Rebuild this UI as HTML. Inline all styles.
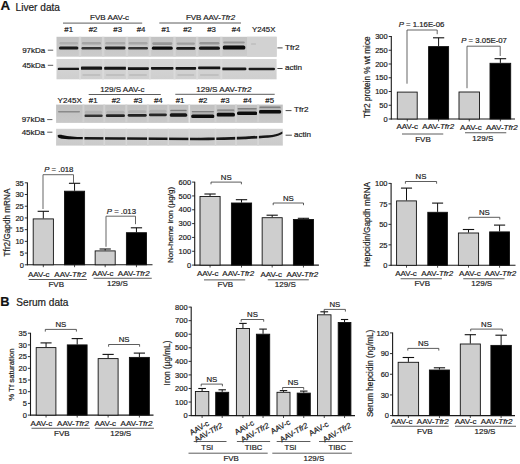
<!DOCTYPE html><html><head><meta charset="utf-8"><style>html,body{margin:0;padding:0;background:#fff;}svg{display:block;}</style></head><body><svg width="520" height="464" viewBox="0 0 520 464" font-family='"Liberation Sans", sans-serif'>
<style>text{stroke:#1c1c1c;stroke-width:0.2px;paint-order:stroke;}</style>
<rect width="520" height="464" fill="#fff"/>
<defs><filter id="bl" x="-10%" y="-50%" width="120%" height="200%"><feGaussianBlur stdDeviation="0.6"/></filter><filter id="bl2" x="-10%" y="-10%" width="120%" height="120%"><feGaussianBlur stdDeviation="0.35"/></filter></defs>
<text x="0.50" y="10.40" font-size="13.4" text-anchor="start" font-weight="bold" fill="#111" >A</text>
<text x="15.60" y="10.50" font-size="10.1" text-anchor="start" font-weight="normal" fill="#1c1c1c" >Liver data</text>
<text x="0.30" y="306.30" font-size="12.8" text-anchor="start" font-weight="bold" fill="#111" >B</text>
<text x="16.30" y="306.20" font-size="10.1" text-anchor="start" font-weight="normal" fill="#1c1c1c" >Serum data</text>
<linearGradient id="g1" x1="0" y1="0" x2="0" y2="1"><stop offset="0" stop-color="#c3c3c3"/><stop offset="1" stop-color="#cbcbcb"/></linearGradient>
<rect x="56.5" y="36.8" width="220.10" height="19.90" fill="url(#g1)"/>
<rect x="247.0" y="36.8" width="29.6" height="19.9" fill="#d2d2d2"/>
<g filter="url(#bl)">
<rect x="59.40" y="42.10" width="18.60" height="2.40" rx="1.20" fill="#b0b0b0"/>
<rect x="58.90" y="46.50" width="19.60" height="3.00" rx="1.50" fill="#1c1c1c"/>
<rect x="81.90" y="42.10" width="19.10" height="2.40" rx="1.20" fill="#a6a6a6"/>
<rect x="81.40" y="47.10" width="20.10" height="2.40" rx="1.20" fill="#363636"/>
<rect x="105.30" y="42.10" width="20.00" height="2.40" rx="1.20" fill="#aaaaaa"/>
<rect x="104.80" y="46.60" width="21.00" height="2.80" rx="1.40" fill="#242424"/>
<rect x="128.50" y="42.10" width="19.00" height="2.40" rx="1.20" fill="#a8a8a8"/>
<rect x="128.00" y="47.10" width="20.00" height="2.40" rx="1.20" fill="#363636"/>
<rect x="152.30" y="42.30" width="20.00" height="2.60" rx="1.30" fill="#989898"/>
<rect x="151.80" y="46.45" width="21.00" height="3.30" rx="1.60" fill="#0e0e0e"/>
<rect x="176.70" y="42.40" width="18.20" height="2.40" rx="1.20" fill="#a0a0a0"/>
<rect x="176.20" y="47.05" width="19.20" height="2.70" rx="1.35" fill="#1c1c1c"/>
<rect x="199.40" y="42.10" width="20.00" height="2.40" rx="1.20" fill="#969696"/>
<rect x="198.90" y="46.55" width="21.00" height="3.30" rx="1.60" fill="#121212"/>
<rect x="223.20" y="41.40" width="21.60" height="2.20" rx="1.10" fill="#989898"/>
<rect x="222.70" y="45.50" width="22.60" height="4.00" rx="1.60" fill="#080808"/>
<rect x="251.00" y="43.50" width="5.00" height="1.00" rx="0.50" fill="#b4b4b4"/>
</g>
<g filter="url(#bl2)">
<rect x="78.75" y="36.8" width="2.4" height="19.90" fill="#d4d4d4"/>
<rect x="101.95" y="36.8" width="2.4" height="19.90" fill="#d4d4d4"/>
<rect x="125.70" y="36.8" width="2.4" height="19.90" fill="#d4d4d4"/>
<rect x="148.70" y="36.8" width="2.4" height="19.90" fill="#d4d4d4"/>
<rect x="173.30" y="36.8" width="2.4" height="19.90" fill="#d4d4d4"/>
<rect x="195.95" y="36.8" width="2.4" height="19.90" fill="#d4d4d4"/>
<rect x="220.10" y="36.8" width="2.4" height="19.90" fill="#d4d4d4"/>
</g>
<linearGradient id="g2" x1="0" y1="0" x2="0" y2="1"><stop offset="0" stop-color="#d6d6d6"/><stop offset="1" stop-color="#cfcfcf"/></linearGradient>
<rect x="56.5" y="59.0" width="220.10" height="20.30" fill="url(#g2)"/>
<g filter="url(#bl)">
<rect x="57.70" y="67.70" width="22.00" height="2.40" rx="1.20" fill="#141414"/>
<rect x="82.40" y="74.00" width="18.10" height="2.00" rx="1.00" fill="#c0c0c0"/>
<rect x="80.20" y="66.60" width="22.50" height="3.20" rx="1.60" fill="#141414"/>
<rect x="105.80" y="74.00" width="19.00" height="2.00" rx="1.00" fill="#c0c0c0"/>
<rect x="103.60" y="66.80" width="23.40" height="3.00" rx="1.50" fill="#141414"/>
<rect x="129.00" y="74.00" width="18.00" height="2.00" rx="1.00" fill="#c0c0c0"/>
<rect x="126.80" y="67.20" width="22.40" height="2.80" rx="1.40" fill="#141414"/>
<rect x="150.60" y="66.90" width="23.40" height="2.80" rx="1.40" fill="#141414"/>
<rect x="177.20" y="74.00" width="17.20" height="2.00" rx="1.00" fill="#c0c0c0"/>
<rect x="175.00" y="66.90" width="21.60" height="2.80" rx="1.40" fill="#141414"/>
<rect x="199.90" y="74.00" width="19.00" height="2.00" rx="1.00" fill="#c0c0c0"/>
<rect x="197.70" y="66.50" width="23.40" height="2.80" rx="1.40" fill="#141414"/>
<rect x="221.50" y="67.50" width="25.00" height="2.80" rx="1.40" fill="#141414"/>
<rect x="248.50" y="67.70" width="26.50" height="2.60" rx="1.30" fill="#1a1a1a"/>
</g>
<g filter="url(#bl2)">
<rect x="78.95" y="59.0" width="2.0" height="20.30" fill="#dadada"/>
<rect x="102.15" y="59.0" width="2.0" height="20.30" fill="#dadada"/>
<rect x="125.90" y="59.0" width="2.0" height="20.30" fill="#dadada"/>
<rect x="148.90" y="59.0" width="2.0" height="20.30" fill="#dadada"/>
<rect x="173.50" y="59.0" width="2.0" height="20.30" fill="#dadada"/>
<rect x="196.15" y="59.0" width="2.0" height="20.30" fill="#dadada"/>
<rect x="220.30" y="59.0" width="2.0" height="20.30" fill="#dadada"/>
</g>
<linearGradient id="g3" x1="0" y1="0" x2="0" y2="1"><stop offset="0" stop-color="#c0c0c0"/><stop offset="1" stop-color="#c9c9c9"/></linearGradient>
<rect x="56.1" y="104.6" width="226.70" height="18.30" fill="url(#g3)"/>
<g filter="url(#bl)">
<rect x="58.00" y="111.10" width="22.00" height="1.40" rx="0.70" fill="#8a8a8a"/>
<rect x="84.70" y="110.80" width="17.50" height="3.00" rx="1.50" fill="#b2b2b2"/>
<rect x="84.20" y="114.60" width="18.50" height="2.40" rx="1.20" fill="#333"/>
<rect x="106.30" y="110.70" width="18.20" height="3.00" rx="1.50" fill="#b2b2b2"/>
<rect x="105.80" y="114.30" width="19.20" height="2.80" rx="1.40" fill="#222"/>
<rect x="128.10" y="110.30" width="18.30" height="3.00" rx="1.50" fill="#b2b2b2"/>
<rect x="127.60" y="113.95" width="19.30" height="2.70" rx="1.35" fill="#222"/>
<rect x="149.30" y="109.80" width="17.10" height="3.00" rx="1.50" fill="#b2b2b2"/>
<rect x="148.80" y="113.45" width="18.10" height="2.70" rx="1.35" fill="#262626"/>
<rect x="170.20" y="110.00" width="16.50" height="3.00" rx="1.50" fill="#b2b2b2"/>
<rect x="170.20" y="109.70" width="16.50" height="1.40" rx="0.70" fill="#808080"/>
<rect x="169.70" y="113.20" width="17.50" height="3.60" rx="1.60" fill="#141414"/>
<rect x="191.70" y="111.20" width="22.30" height="3.00" rx="1.50" fill="#b2b2b2"/>
<rect x="191.70" y="110.90" width="22.30" height="1.40" rx="0.70" fill="#808080"/>
<rect x="191.20" y="114.40" width="23.30" height="3.60" rx="1.60" fill="#0a0a0a"/>
<rect x="217.00" y="109.70" width="17.50" height="3.00" rx="1.50" fill="#b2b2b2"/>
<rect x="217.00" y="109.40" width="17.50" height="1.40" rx="0.70" fill="#808080"/>
<rect x="216.50" y="112.80" width="18.50" height="3.80" rx="1.60" fill="#0c0c0c"/>
<rect x="237.50" y="108.30" width="19.30" height="3.00" rx="1.50" fill="#b2b2b2"/>
<rect x="237.50" y="108.00" width="19.30" height="1.40" rx="0.70" fill="#808080"/>
<rect x="237.00" y="111.50" width="20.30" height="3.60" rx="1.60" fill="#0c0c0c"/>
<rect x="259.30" y="106.80" width="21.40" height="3.00" rx="1.50" fill="#b2b2b2"/>
<rect x="259.30" y="106.50" width="21.40" height="1.40" rx="0.70" fill="#808080"/>
<rect x="258.80" y="110.05" width="22.40" height="3.50" rx="1.60" fill="#0c0c0c"/>
</g>
<g filter="url(#bl2)">
<rect x="82.40" y="104.6" width="2.0" height="18.30" fill="#d0d0d0"/>
<rect x="103.25" y="104.6" width="2.0" height="18.30" fill="#d0d0d0"/>
<rect x="125.30" y="104.6" width="2.0" height="18.30" fill="#d0d0d0"/>
<rect x="146.85" y="104.6" width="2.0" height="18.30" fill="#d0d0d0"/>
<rect x="167.30" y="104.6" width="2.0" height="18.30" fill="#d0d0d0"/>
<rect x="188.20" y="104.6" width="2.0" height="18.30" fill="#d0d0d0"/>
<rect x="214.50" y="104.6" width="2.0" height="18.30" fill="#d0d0d0"/>
<rect x="235.00" y="104.6" width="2.0" height="18.30" fill="#d0d0d0"/>
<rect x="257.05" y="104.6" width="2.0" height="18.30" fill="#d0d0d0"/>
</g>
<rect x="188.6" y="104.6" width="1.4" height="18.3" fill="#e4e4e4"/>
<linearGradient id="g4" x1="0" y1="0" x2="0" y2="1"><stop offset="0" stop-color="#d2d2d2"/><stop offset="1" stop-color="#cacaca"/></linearGradient>
<rect x="56.1" y="128.8" width="226.70" height="16.80" fill="url(#g4)"/>
<g filter="url(#bl)">
<path d="M57.6,135.6 C58,134.6 60,134.6 63,135.2 C68,136.2 75,137.0 83.2,137.1 L83.2,139.3 C75,139.4 68,139.4 62,138.8 C59,138.5 57.6,137.6 57.6,135.6 Z" fill="#0a0a0a"/>
<path d="M83,137.1 L200,137.8 C230,137.4 258,136.0 272,134.9 C277,134.3 280,133.0 282.4,131.6 L282.4,133.8 C280,135.2 277,136.6 272,137.3 C258,138.8 230,140.2 200,140.2 L83,139.6 Z" fill="#161616"/>
</g>
<g filter="url(#bl2)">
<rect x="82.80" y="128.8" width="1.6" height="16.80" fill="#d6d6d6"/>
<rect x="103.45" y="128.8" width="1.6" height="16.80" fill="#d6d6d6"/>
<rect x="125.50" y="128.8" width="1.6" height="16.80" fill="#d6d6d6"/>
<rect x="147.05" y="128.8" width="1.6" height="16.80" fill="#d6d6d6"/>
<rect x="167.50" y="128.8" width="1.6" height="16.80" fill="#d6d6d6"/>
<rect x="188.40" y="128.8" width="1.6" height="16.80" fill="#d6d6d6"/>
<rect x="214.70" y="128.8" width="1.6" height="16.80" fill="#d6d6d6"/>
<rect x="235.20" y="128.8" width="1.6" height="16.80" fill="#d6d6d6"/>
<rect x="257.25" y="128.8" width="1.6" height="16.80" fill="#d6d6d6"/>
</g>
<text x="45.30" y="52.70" font-size="8.0" text-anchor="end" font-weight="normal" fill="#1c1c1c" >97kDa</text>
<line x1="47.80" y1="50.20" x2="53.20" y2="50.20" stroke="#333" stroke-width="0.8"/>
<text x="45.30" y="67.50" font-size="8.0" text-anchor="end" font-weight="normal" fill="#1c1c1c" >45kDa</text>
<line x1="47.80" y1="65.30" x2="53.20" y2="65.30" stroke="#333" stroke-width="0.8"/>
<text x="44.80" y="122.40" font-size="8.0" text-anchor="end" font-weight="normal" fill="#1c1c1c" >97kDa</text>
<line x1="47.20" y1="119.60" x2="52.40" y2="119.60" stroke="#333" stroke-width="0.8"/>
<text x="44.80" y="134.90" font-size="8.0" text-anchor="end" font-weight="normal" fill="#1c1c1c" >45kDa</text>
<line x1="47.20" y1="132.20" x2="52.40" y2="132.20" stroke="#333" stroke-width="0.8"/>
<line x1="277.40" y1="47.90" x2="282.60" y2="47.90" stroke="#333" stroke-width="0.9"/>
<text x="285.00" y="49.50" font-size="8.1" text-anchor="start" font-weight="normal" fill="#1c1c1c" >Tfr2</text>
<line x1="277.40" y1="68.50" x2="282.60" y2="68.50" stroke="#333" stroke-width="0.9"/>
<text x="285.00" y="70.20" font-size="8.1" text-anchor="start" font-weight="normal" fill="#1c1c1c" >actin</text>
<line x1="285.60" y1="110.60" x2="291.50" y2="110.60" stroke="#333" stroke-width="0.9"/>
<text x="294.00" y="112.40" font-size="8.1" text-anchor="start" font-weight="normal" fill="#1c1c1c" >Tfr2</text>
<line x1="285.60" y1="135.20" x2="291.90" y2="135.20" stroke="#333" stroke-width="0.9"/>
<text x="293.90" y="137.00" font-size="8.1" text-anchor="start" font-weight="normal" fill="#1c1c1c" >actin</text>
<text x="109.60" y="19.90" font-size="8.0" text-anchor="middle" font-weight="normal" fill="#1c1c1c" >FVB AAV-c</text>
<line x1="63.00" y1="23.10" x2="142.20" y2="23.10" stroke="#333" stroke-width="0.8"/>
<text x="210.50" y="19.90" font-size="8.0" text-anchor="middle" font-weight="normal" fill="#1c1c1c" >FVB AAV-<tspan font-style="italic">Tfr2</tspan></text>
<line x1="159.30" y1="23.00" x2="241.00" y2="23.00" stroke="#333" stroke-width="0.8"/>
<text x="68.70" y="32.00" font-size="7.8" text-anchor="middle" font-weight="normal" fill="#1c1c1c" >#1</text>
<text x="93.00" y="32.00" font-size="7.8" text-anchor="middle" font-weight="normal" fill="#1c1c1c" >#2</text>
<text x="117.70" y="32.00" font-size="7.8" text-anchor="middle" font-weight="normal" fill="#1c1c1c" >#3</text>
<text x="141.00" y="32.00" font-size="7.8" text-anchor="middle" font-weight="normal" fill="#1c1c1c" >#4</text>
<text x="165.80" y="32.00" font-size="7.8" text-anchor="middle" font-weight="normal" fill="#1c1c1c" >#1</text>
<text x="187.50" y="32.00" font-size="7.8" text-anchor="middle" font-weight="normal" fill="#1c1c1c" >#2</text>
<text x="211.50" y="32.00" font-size="7.8" text-anchor="middle" font-weight="normal" fill="#1c1c1c" >#3</text>
<text x="236.20" y="32.00" font-size="7.8" text-anchor="middle" font-weight="normal" fill="#1c1c1c" >#4</text>
<text x="263.70" y="31.80" font-size="7.8" text-anchor="middle" font-weight="normal" fill="#1c1c1c" >Y245X</text>
<text x="122.30" y="92.40" font-size="8.0" text-anchor="middle" font-weight="normal" fill="#1c1c1c" >129/S AAV-c</text>
<line x1="88.70" y1="94.50" x2="160.80" y2="94.50" stroke="#333" stroke-width="0.8"/>
<text x="223.90" y="92.40" font-size="8.1" text-anchor="middle" font-weight="normal" fill="#1c1c1c" >129/S AAV-<tspan font-style="italic">Tfr2</tspan></text>
<line x1="175.30" y1="94.30" x2="274.70" y2="94.30" stroke="#333" stroke-width="0.8"/>
<text x="93.20" y="103.00" font-size="7.8" text-anchor="middle" font-weight="normal" fill="#1c1c1c" >#1</text>
<text x="116.00" y="103.00" font-size="7.8" text-anchor="middle" font-weight="normal" fill="#1c1c1c" >#2</text>
<text x="138.10" y="103.00" font-size="7.8" text-anchor="middle" font-weight="normal" fill="#1c1c1c" >#3</text>
<text x="158.30" y="103.00" font-size="7.8" text-anchor="middle" font-weight="normal" fill="#1c1c1c" >#4</text>
<text x="180.10" y="103.00" font-size="7.8" text-anchor="middle" font-weight="normal" fill="#1c1c1c" >#1</text>
<text x="203.10" y="103.00" font-size="7.8" text-anchor="middle" font-weight="normal" fill="#1c1c1c" >#2</text>
<text x="225.20" y="103.00" font-size="7.8" text-anchor="middle" font-weight="normal" fill="#1c1c1c" >#3</text>
<text x="247.50" y="103.00" font-size="7.8" text-anchor="middle" font-weight="normal" fill="#1c1c1c" >#4</text>
<text x="269.70" y="103.00" font-size="7.8" text-anchor="middle" font-weight="normal" fill="#1c1c1c" >#5</text>
<text x="69.70" y="102.80" font-size="8.1" text-anchor="middle" font-weight="normal" fill="#1c1c1c" >Y245X</text>
<line x1="391.30" y1="36.10" x2="391.30" y2="119.50" stroke="#1a1a1a" stroke-width="1.1"/>
<line x1="390.80" y1="119.00" x2="515.00" y2="119.00" stroke="#1a1a1a" stroke-width="1.1"/>
<line x1="388.70" y1="119.00" x2="391.30" y2="119.00" stroke="#1a1a1a" stroke-width="0.9"/>
<text x="387.70" y="121.70" font-size="7.5" text-anchor="end" font-weight="normal" fill="#1c1c1c" >0</text>
<line x1="388.70" y1="105.25" x2="391.30" y2="105.25" stroke="#1a1a1a" stroke-width="0.9"/>
<text x="387.70" y="107.95" font-size="7.5" text-anchor="end" font-weight="normal" fill="#1c1c1c" >50</text>
<line x1="388.70" y1="91.50" x2="391.30" y2="91.50" stroke="#1a1a1a" stroke-width="0.9"/>
<text x="387.70" y="94.20" font-size="7.5" text-anchor="end" font-weight="normal" fill="#1c1c1c" >100</text>
<line x1="388.70" y1="77.75" x2="391.30" y2="77.75" stroke="#1a1a1a" stroke-width="0.9"/>
<text x="387.70" y="80.45" font-size="7.5" text-anchor="end" font-weight="normal" fill="#1c1c1c" >150</text>
<line x1="388.70" y1="64.00" x2="391.30" y2="64.00" stroke="#1a1a1a" stroke-width="0.9"/>
<text x="387.70" y="66.70" font-size="7.5" text-anchor="end" font-weight="normal" fill="#1c1c1c" >200</text>
<line x1="388.70" y1="50.25" x2="391.30" y2="50.25" stroke="#1a1a1a" stroke-width="0.9"/>
<text x="387.70" y="52.95" font-size="7.5" text-anchor="end" font-weight="normal" fill="#1c1c1c" >250</text>
<line x1="388.70" y1="36.50" x2="391.30" y2="36.50" stroke="#1a1a1a" stroke-width="0.9"/>
<text x="387.70" y="39.20" font-size="7.5" text-anchor="end" font-weight="normal" fill="#1c1c1c" >300</text>
<rect x="397.30" y="92.10" width="19.90" height="26.90" fill="#cecece" stroke="#111" stroke-width="0.9"/>
<line x1="407.25" y1="119.00" x2="407.25" y2="121.40" stroke="#1a1a1a" stroke-width="0.8"/>
<line x1="438.60" y1="46.20" x2="438.60" y2="37.80" stroke="#111" stroke-width="1.0"/>
<line x1="432.98" y1="37.80" x2="444.22" y2="37.80" stroke="#111" stroke-width="1.1"/>
<rect x="428.60" y="46.60" width="20.00" height="72.40" fill="#000" stroke="#111" stroke-width="0.9"/>
<line x1="438.60" y1="119.00" x2="438.60" y2="121.40" stroke="#1a1a1a" stroke-width="0.8"/>
<rect x="459.00" y="92.00" width="20.50" height="27.00" fill="#cecece" stroke="#111" stroke-width="0.9"/>
<line x1="469.25" y1="119.00" x2="469.25" y2="121.40" stroke="#1a1a1a" stroke-width="0.8"/>
<line x1="500.35" y1="62.90" x2="500.35" y2="58.70" stroke="#111" stroke-width="1.0"/>
<line x1="494.55" y1="58.70" x2="506.16" y2="58.70" stroke="#111" stroke-width="1.1"/>
<rect x="490.00" y="63.30" width="20.70" height="55.70" fill="#000" stroke="#111" stroke-width="0.9"/>
<line x1="500.35" y1="119.00" x2="500.35" y2="121.40" stroke="#1a1a1a" stroke-width="0.8"/>
<polyline points="407.00,83.70 407.00,30.00 437.20,30.00 437.20,34.20" fill="none" stroke="#4a4a4a" stroke-width="0.85"/>
<text x="421.50" y="27.30" font-size="7.8" text-anchor="middle" font-weight="normal" fill="#1c1c1c" ><tspan font-style="italic">P</tspan> = 1.16E-06</text>
<polyline points="467.00,88.20 467.00,46.20 500.20,46.20 500.20,56.00" fill="none" stroke="#4a4a4a" stroke-width="0.85"/>
<text x="484.10" y="43.30" font-size="7.8" text-anchor="middle" font-weight="normal" fill="#1c1c1c" ><tspan font-style="italic">P</tspan> = 3.05E-07</text>
<text x="407.30" y="129.40" font-size="8.0" text-anchor="middle" font-weight="normal" fill="#1c1c1c" >AAV-c</text>
<text x="438.25" y="129.40" font-size="8.0" text-anchor="middle" font-weight="normal" fill="#1c1c1c" >AAV-<tspan font-style="italic">Tfr2</tspan></text>
<line x1="402.00" y1="134.00" x2="443.25" y2="134.00" stroke="#333" stroke-width="0.8"/>
<text x="423.00" y="142.40" font-size="8.0" text-anchor="middle" font-weight="normal" fill="#1c1c1c" >FVB</text>
<text x="470.90" y="129.60" font-size="8.0" text-anchor="middle" font-weight="normal" fill="#1c1c1c" >AAV-c</text>
<text x="501.90" y="129.60" font-size="8.0" text-anchor="middle" font-weight="normal" fill="#1c1c1c" >AAV-<tspan font-style="italic">Tfr2</tspan></text>
<line x1="465.00" y1="132.75" x2="506.25" y2="132.75" stroke="#333" stroke-width="0.8"/>
<text x="482.80" y="141.20" font-size="8.0" text-anchor="middle" font-weight="normal" fill="#1c1c1c" >129/S</text>
<text x="0" y="0" font-size="8.2" text-anchor="middle" fill="#1c1c1c" transform="translate(370.40,77.20) rotate(-90)">Tfr2 protein % wt mice</text>
<line x1="27.40" y1="182.40" x2="27.40" y2="265.30" stroke="#1a1a1a" stroke-width="1.1"/>
<line x1="26.90" y1="264.80" x2="152.50" y2="264.80" stroke="#1a1a1a" stroke-width="1.1"/>
<line x1="24.80" y1="264.80" x2="27.40" y2="264.80" stroke="#1a1a1a" stroke-width="0.9"/>
<text x="23.80" y="267.50" font-size="7.5" text-anchor="end" font-weight="normal" fill="#1c1c1c" >0</text>
<line x1="24.80" y1="253.09" x2="27.40" y2="253.09" stroke="#1a1a1a" stroke-width="0.9"/>
<text x="23.80" y="255.79" font-size="7.5" text-anchor="end" font-weight="normal" fill="#1c1c1c" >5</text>
<line x1="24.80" y1="241.37" x2="27.40" y2="241.37" stroke="#1a1a1a" stroke-width="0.9"/>
<text x="23.80" y="244.07" font-size="7.5" text-anchor="end" font-weight="normal" fill="#1c1c1c" >10</text>
<line x1="24.80" y1="229.66" x2="27.40" y2="229.66" stroke="#1a1a1a" stroke-width="0.9"/>
<text x="23.80" y="232.36" font-size="7.5" text-anchor="end" font-weight="normal" fill="#1c1c1c" >15</text>
<line x1="24.80" y1="217.94" x2="27.40" y2="217.94" stroke="#1a1a1a" stroke-width="0.9"/>
<text x="23.80" y="220.64" font-size="7.5" text-anchor="end" font-weight="normal" fill="#1c1c1c" >20</text>
<line x1="24.80" y1="206.23" x2="27.40" y2="206.23" stroke="#1a1a1a" stroke-width="0.9"/>
<text x="23.80" y="208.93" font-size="7.5" text-anchor="end" font-weight="normal" fill="#1c1c1c" >25</text>
<line x1="24.80" y1="194.51" x2="27.40" y2="194.51" stroke="#1a1a1a" stroke-width="0.9"/>
<text x="23.80" y="197.21" font-size="7.5" text-anchor="end" font-weight="normal" fill="#1c1c1c" >30</text>
<line x1="24.80" y1="182.80" x2="27.40" y2="182.80" stroke="#1a1a1a" stroke-width="0.9"/>
<text x="23.80" y="185.50" font-size="7.5" text-anchor="end" font-weight="normal" fill="#1c1c1c" >35</text>
<line x1="43.30" y1="218.50" x2="43.30" y2="211.30" stroke="#111" stroke-width="1.0"/>
<line x1="37.63" y1="211.30" x2="48.97" y2="211.30" stroke="#111" stroke-width="1.1"/>
<rect x="33.20" y="218.90" width="20.20" height="45.90" fill="#cecece" stroke="#111" stroke-width="0.9"/>
<line x1="43.30" y1="264.80" x2="43.30" y2="267.20" stroke="#1a1a1a" stroke-width="0.8"/>
<line x1="74.55" y1="190.80" x2="74.55" y2="183.30" stroke="#111" stroke-width="1.0"/>
<line x1="68.91" y1="183.30" x2="80.19" y2="183.30" stroke="#111" stroke-width="1.1"/>
<rect x="64.50" y="191.20" width="20.10" height="73.60" fill="#000" stroke="#111" stroke-width="0.9"/>
<line x1="74.55" y1="264.80" x2="74.55" y2="267.20" stroke="#1a1a1a" stroke-width="0.8"/>
<line x1="105.17" y1="250.50" x2="105.17" y2="249.00" stroke="#111" stroke-width="1.0"/>
<line x1="99.55" y1="249.00" x2="110.80" y2="249.00" stroke="#111" stroke-width="1.1"/>
<rect x="95.15" y="250.90" width="20.05" height="13.90" fill="#cecece" stroke="#111" stroke-width="0.9"/>
<line x1="105.17" y1="264.80" x2="105.17" y2="267.20" stroke="#1a1a1a" stroke-width="0.8"/>
<line x1="136.45" y1="232.30" x2="136.45" y2="227.80" stroke="#111" stroke-width="1.0"/>
<line x1="130.81" y1="227.80" x2="142.09" y2="227.80" stroke="#111" stroke-width="1.1"/>
<rect x="126.40" y="232.70" width="20.10" height="32.10" fill="#000" stroke="#111" stroke-width="0.9"/>
<line x1="136.45" y1="264.80" x2="136.45" y2="267.20" stroke="#1a1a1a" stroke-width="0.8"/>
<polyline points="43.00,209.00 43.00,174.70 73.50,174.70 73.50,183.30" fill="none" stroke="#4a4a4a" stroke-width="0.85"/>
<text x="58.80" y="171.50" font-size="7.8" text-anchor="middle" font-weight="normal" fill="#1c1c1c" ><tspan font-style="italic">P</tspan> = .018</text>
<polyline points="106.00,246.80 106.00,216.20 135.50,216.20 135.50,224.20" fill="none" stroke="#4a4a4a" stroke-width="0.85"/>
<text x="121.40" y="213.80" font-size="7.8" text-anchor="middle" font-weight="normal" fill="#1c1c1c" ><tspan font-style="italic">P</tspan> = .013</text>
<text x="38.75" y="276.60" font-size="8.0" text-anchor="middle" font-weight="normal" fill="#1c1c1c" >AAV-c</text>
<text x="70.30" y="276.60" font-size="8.0" text-anchor="middle" font-weight="normal" fill="#1c1c1c" >AAV-<tspan font-style="italic">Tfr2</tspan></text>
<line x1="28.75" y1="279.50" x2="86.90" y2="279.50" stroke="#333" stroke-width="0.8"/>
<text x="56.25" y="286.90" font-size="8.0" text-anchor="middle" font-weight="normal" fill="#1c1c1c" >FVB</text>
<text x="102.70" y="275.90" font-size="8.0" text-anchor="middle" font-weight="normal" fill="#1c1c1c" >AAV-c</text>
<text x="133.75" y="275.90" font-size="8.0" text-anchor="middle" font-weight="normal" fill="#1c1c1c" >AAV-<tspan font-style="italic">Tfr2</tspan></text>
<line x1="93.60" y1="278.25" x2="151.75" y2="278.25" stroke="#333" stroke-width="0.8"/>
<text x="117.40" y="285.60" font-size="8.0" text-anchor="middle" font-weight="normal" fill="#1c1c1c" >129/S</text>
<text x="0" y="0" font-size="8.2" text-anchor="middle" fill="#1c1c1c" transform="translate(9.80,222.50) rotate(-90)">Tfr2/Gapdh mRNA</text>
<line x1="194.70" y1="181.70" x2="194.70" y2="265.60" stroke="#1a1a1a" stroke-width="1.1"/>
<line x1="194.20" y1="265.10" x2="318.90" y2="265.10" stroke="#1a1a1a" stroke-width="1.1"/>
<line x1="192.10" y1="265.10" x2="194.70" y2="265.10" stroke="#1a1a1a" stroke-width="0.9"/>
<text x="191.10" y="267.80" font-size="7.5" text-anchor="end" font-weight="normal" fill="#1c1c1c" >0</text>
<line x1="192.10" y1="251.27" x2="194.70" y2="251.27" stroke="#1a1a1a" stroke-width="0.9"/>
<text x="191.10" y="253.97" font-size="7.5" text-anchor="end" font-weight="normal" fill="#1c1c1c" >100</text>
<line x1="192.10" y1="237.43" x2="194.70" y2="237.43" stroke="#1a1a1a" stroke-width="0.9"/>
<text x="191.10" y="240.13" font-size="7.5" text-anchor="end" font-weight="normal" fill="#1c1c1c" >200</text>
<line x1="192.10" y1="223.60" x2="194.70" y2="223.60" stroke="#1a1a1a" stroke-width="0.9"/>
<text x="191.10" y="226.30" font-size="7.5" text-anchor="end" font-weight="normal" fill="#1c1c1c" >300</text>
<line x1="192.10" y1="209.77" x2="194.70" y2="209.77" stroke="#1a1a1a" stroke-width="0.9"/>
<text x="191.10" y="212.47" font-size="7.5" text-anchor="end" font-weight="normal" fill="#1c1c1c" >400</text>
<line x1="192.10" y1="195.93" x2="194.70" y2="195.93" stroke="#1a1a1a" stroke-width="0.9"/>
<text x="191.10" y="198.63" font-size="7.5" text-anchor="end" font-weight="normal" fill="#1c1c1c" >500</text>
<line x1="192.10" y1="182.10" x2="194.70" y2="182.10" stroke="#1a1a1a" stroke-width="0.9"/>
<text x="191.10" y="184.80" font-size="7.5" text-anchor="end" font-weight="normal" fill="#1c1c1c" >600</text>
<line x1="210.05" y1="196.10" x2="210.05" y2="194.00" stroke="#111" stroke-width="1.0"/>
<line x1="204.41" y1="194.00" x2="215.69" y2="194.00" stroke="#111" stroke-width="1.1"/>
<rect x="200.00" y="196.50" width="20.10" height="68.60" fill="#cecece" stroke="#111" stroke-width="0.9"/>
<line x1="210.05" y1="265.10" x2="210.05" y2="267.50" stroke="#1a1a1a" stroke-width="0.8"/>
<line x1="241.50" y1="202.60" x2="241.50" y2="199.70" stroke="#111" stroke-width="1.0"/>
<line x1="235.83" y1="199.70" x2="247.17" y2="199.70" stroke="#111" stroke-width="1.1"/>
<rect x="231.40" y="203.00" width="20.20" height="62.10" fill="#000" stroke="#111" stroke-width="0.9"/>
<line x1="241.50" y1="265.10" x2="241.50" y2="267.50" stroke="#1a1a1a" stroke-width="0.8"/>
<line x1="272.18" y1="217.30" x2="272.18" y2="215.20" stroke="#111" stroke-width="1.0"/>
<line x1="266.55" y1="215.20" x2="277.80" y2="215.20" stroke="#111" stroke-width="1.1"/>
<rect x="262.15" y="217.70" width="20.05" height="47.40" fill="#cecece" stroke="#111" stroke-width="0.9"/>
<line x1="272.18" y1="265.10" x2="272.18" y2="267.50" stroke="#1a1a1a" stroke-width="0.8"/>
<line x1="303.45" y1="219.10" x2="303.45" y2="218.30" stroke="#111" stroke-width="1.0"/>
<line x1="297.81" y1="218.30" x2="309.09" y2="218.30" stroke="#111" stroke-width="1.1"/>
<rect x="293.40" y="219.50" width="20.10" height="45.60" fill="#000" stroke="#111" stroke-width="0.9"/>
<line x1="303.45" y1="265.10" x2="303.45" y2="267.50" stroke="#1a1a1a" stroke-width="0.8"/>
<polyline points="211.00,184.30 211.00,182.10 241.40,182.10 241.40,184.30" fill="none" stroke="#333" stroke-width="0.8"/>
<text x="226.20" y="179.90" font-size="7.8" text-anchor="middle" font-weight="normal" fill="#1c1c1c" >NS</text>
<polyline points="273.20,205.20 273.20,203.00 303.50,203.00 303.50,205.20" fill="none" stroke="#333" stroke-width="0.8"/>
<text x="288.35" y="200.80" font-size="7.8" text-anchor="middle" font-weight="normal" fill="#1c1c1c" >NS</text>
<text x="207.70" y="276.30" font-size="8.0" text-anchor="middle" font-weight="normal" fill="#1c1c1c" >AAV-c</text>
<text x="238.30" y="276.30" font-size="8.0" text-anchor="middle" font-weight="normal" fill="#1c1c1c" >AAV-<tspan font-style="italic">Tfr2</tspan></text>
<line x1="204.00" y1="279.90" x2="245.20" y2="279.90" stroke="#333" stroke-width="0.8"/>
<text x="225.30" y="286.60" font-size="8.0" text-anchor="middle" font-weight="normal" fill="#1c1c1c" >FVB</text>
<text x="271.20" y="276.80" font-size="8.0" text-anchor="middle" font-weight="normal" fill="#1c1c1c" >AAV-c</text>
<text x="302.40" y="276.80" font-size="8.0" text-anchor="middle" font-weight="normal" fill="#1c1c1c" >AAV-<tspan font-style="italic">Tfr2</tspan></text>
<line x1="267.80" y1="279.80" x2="308.80" y2="279.80" stroke="#333" stroke-width="0.8"/>
<text x="285.30" y="287.10" font-size="8.0" text-anchor="middle" font-weight="normal" fill="#1c1c1c" >129/S</text>
<text x="0" y="0" font-size="8.0" text-anchor="middle" fill="#1c1c1c" transform="translate(173.10,225.00) rotate(-90)">Non-heme iron (µg/g)</text>
<line x1="391.10" y1="183.00" x2="391.10" y2="265.80" stroke="#1a1a1a" stroke-width="1.1"/>
<line x1="390.60" y1="265.30" x2="515.50" y2="265.30" stroke="#1a1a1a" stroke-width="1.1"/>
<line x1="388.50" y1="265.30" x2="391.10" y2="265.30" stroke="#1a1a1a" stroke-width="0.9"/>
<text x="387.50" y="268.00" font-size="7.5" text-anchor="end" font-weight="normal" fill="#1c1c1c" >0</text>
<line x1="388.50" y1="244.83" x2="391.10" y2="244.83" stroke="#1a1a1a" stroke-width="0.9"/>
<text x="387.50" y="247.53" font-size="7.5" text-anchor="end" font-weight="normal" fill="#1c1c1c" >25</text>
<line x1="388.50" y1="224.35" x2="391.10" y2="224.35" stroke="#1a1a1a" stroke-width="0.9"/>
<text x="387.50" y="227.05" font-size="7.5" text-anchor="end" font-weight="normal" fill="#1c1c1c" >50</text>
<line x1="388.50" y1="203.88" x2="391.10" y2="203.88" stroke="#1a1a1a" stroke-width="0.9"/>
<text x="387.50" y="206.57" font-size="7.5" text-anchor="end" font-weight="normal" fill="#1c1c1c" >75</text>
<line x1="388.50" y1="183.40" x2="391.10" y2="183.40" stroke="#1a1a1a" stroke-width="0.9"/>
<text x="387.50" y="186.10" font-size="7.5" text-anchor="end" font-weight="normal" fill="#1c1c1c" >100</text>
<line x1="406.50" y1="200.50" x2="406.50" y2="188.10" stroke="#111" stroke-width="1.0"/>
<line x1="400.94" y1="188.10" x2="412.06" y2="188.10" stroke="#111" stroke-width="1.1"/>
<rect x="396.60" y="200.90" width="19.80" height="64.40" fill="#cecece" stroke="#111" stroke-width="0.9"/>
<line x1="406.50" y1="265.30" x2="406.50" y2="267.70" stroke="#1a1a1a" stroke-width="0.8"/>
<line x1="437.60" y1="211.90" x2="437.60" y2="203.10" stroke="#111" stroke-width="1.0"/>
<line x1="432.09" y1="203.10" x2="443.11" y2="203.10" stroke="#111" stroke-width="1.1"/>
<rect x="427.80" y="212.30" width="19.60" height="53.00" fill="#000" stroke="#111" stroke-width="0.9"/>
<line x1="437.60" y1="265.30" x2="437.60" y2="267.70" stroke="#1a1a1a" stroke-width="0.8"/>
<line x1="468.50" y1="232.60" x2="468.50" y2="229.50" stroke="#111" stroke-width="1.0"/>
<line x1="462.83" y1="229.50" x2="474.17" y2="229.50" stroke="#111" stroke-width="1.1"/>
<rect x="458.40" y="233.00" width="20.20" height="32.30" fill="#cecece" stroke="#111" stroke-width="0.9"/>
<line x1="468.50" y1="265.30" x2="468.50" y2="267.70" stroke="#1a1a1a" stroke-width="0.8"/>
<line x1="499.57" y1="231.50" x2="499.57" y2="225.10" stroke="#111" stroke-width="1.0"/>
<line x1="494.00" y1="225.10" x2="505.15" y2="225.10" stroke="#111" stroke-width="1.1"/>
<rect x="489.65" y="231.90" width="19.85" height="33.40" fill="#000" stroke="#111" stroke-width="0.9"/>
<line x1="499.57" y1="265.30" x2="499.57" y2="267.70" stroke="#1a1a1a" stroke-width="0.8"/>
<polyline points="405.40,183.70 405.40,181.50 436.60,181.50 436.60,183.70" fill="none" stroke="#333" stroke-width="0.8"/>
<text x="421.00" y="179.30" font-size="7.8" text-anchor="middle" font-weight="normal" fill="#1c1c1c" >NS</text>
<polyline points="468.80,219.50 468.80,217.30 499.80,217.30 499.80,219.50" fill="none" stroke="#333" stroke-width="0.8"/>
<text x="484.30" y="215.10" font-size="7.8" text-anchor="middle" font-weight="normal" fill="#1c1c1c" >NS</text>
<text x="406.00" y="275.90" font-size="8.0" text-anchor="middle" font-weight="normal" fill="#1c1c1c" >AAV-c</text>
<text x="437.20" y="275.90" font-size="8.0" text-anchor="middle" font-weight="normal" fill="#1c1c1c" >AAV-<tspan font-style="italic">Tfr2</tspan></text>
<line x1="400.60" y1="278.75" x2="441.90" y2="278.75" stroke="#333" stroke-width="0.8"/>
<text x="422.20" y="286.20" font-size="8.0" text-anchor="middle" font-weight="normal" fill="#1c1c1c" >FVB</text>
<text x="469.90" y="275.90" font-size="8.0" text-anchor="middle" font-weight="normal" fill="#1c1c1c" >AAV-c</text>
<text x="500.40" y="275.90" font-size="8.0" text-anchor="middle" font-weight="normal" fill="#1c1c1c" >AAV-<tspan font-style="italic">Tfr2</tspan></text>
<line x1="463.25" y1="278.75" x2="504.50" y2="278.75" stroke="#333" stroke-width="0.8"/>
<text x="481.75" y="286.20" font-size="8.0" text-anchor="middle" font-weight="normal" fill="#1c1c1c" >129/S</text>
<text x="0" y="0" font-size="8.2" text-anchor="middle" fill="#1c1c1c" transform="translate(370.20,224.50) rotate(-90)">Hepcidin/Gapdh mRNA</text>
<line x1="30.50" y1="332.80" x2="30.50" y2="415.60" stroke="#1a1a1a" stroke-width="1.1"/>
<line x1="30.00" y1="415.10" x2="153.50" y2="415.10" stroke="#1a1a1a" stroke-width="1.1"/>
<line x1="27.90" y1="415.10" x2="30.50" y2="415.10" stroke="#1a1a1a" stroke-width="0.9"/>
<text x="26.90" y="417.80" font-size="7.5" text-anchor="end" font-weight="normal" fill="#1c1c1c" >0</text>
<line x1="27.90" y1="403.40" x2="30.50" y2="403.40" stroke="#1a1a1a" stroke-width="0.9"/>
<text x="26.90" y="406.10" font-size="7.5" text-anchor="end" font-weight="normal" fill="#1c1c1c" >5</text>
<line x1="27.90" y1="391.70" x2="30.50" y2="391.70" stroke="#1a1a1a" stroke-width="0.9"/>
<text x="26.90" y="394.40" font-size="7.5" text-anchor="end" font-weight="normal" fill="#1c1c1c" >10</text>
<line x1="27.90" y1="380.00" x2="30.50" y2="380.00" stroke="#1a1a1a" stroke-width="0.9"/>
<text x="26.90" y="382.70" font-size="7.5" text-anchor="end" font-weight="normal" fill="#1c1c1c" >15</text>
<line x1="27.90" y1="368.30" x2="30.50" y2="368.30" stroke="#1a1a1a" stroke-width="0.9"/>
<text x="26.90" y="371.00" font-size="7.5" text-anchor="end" font-weight="normal" fill="#1c1c1c" >20</text>
<line x1="27.90" y1="356.60" x2="30.50" y2="356.60" stroke="#1a1a1a" stroke-width="0.9"/>
<text x="26.90" y="359.30" font-size="7.5" text-anchor="end" font-weight="normal" fill="#1c1c1c" >25</text>
<line x1="27.90" y1="344.90" x2="30.50" y2="344.90" stroke="#1a1a1a" stroke-width="0.9"/>
<text x="26.90" y="347.60" font-size="7.5" text-anchor="end" font-weight="normal" fill="#1c1c1c" >30</text>
<line x1="27.90" y1="333.20" x2="30.50" y2="333.20" stroke="#1a1a1a" stroke-width="0.9"/>
<text x="26.90" y="335.90" font-size="7.5" text-anchor="end" font-weight="normal" fill="#1c1c1c" >35</text>
<line x1="46.05" y1="347.20" x2="46.05" y2="342.90" stroke="#111" stroke-width="1.0"/>
<line x1="40.52" y1="342.90" x2="51.58" y2="342.90" stroke="#111" stroke-width="1.1"/>
<rect x="36.20" y="347.60" width="19.70" height="67.50" fill="#cecece" stroke="#111" stroke-width="0.9"/>
<line x1="46.05" y1="415.10" x2="46.05" y2="417.50" stroke="#1a1a1a" stroke-width="0.8"/>
<line x1="77.20" y1="344.50" x2="77.20" y2="338.60" stroke="#111" stroke-width="1.0"/>
<line x1="71.64" y1="338.60" x2="82.76" y2="338.60" stroke="#111" stroke-width="1.1"/>
<rect x="67.30" y="344.90" width="19.80" height="70.20" fill="#000" stroke="#111" stroke-width="0.9"/>
<line x1="77.20" y1="415.10" x2="77.20" y2="417.50" stroke="#1a1a1a" stroke-width="0.8"/>
<line x1="108.12" y1="358.20" x2="108.12" y2="354.40" stroke="#111" stroke-width="1.0"/>
<line x1="102.52" y1="354.40" x2="113.73" y2="354.40" stroke="#111" stroke-width="1.1"/>
<rect x="98.15" y="358.60" width="19.95" height="56.50" fill="#cecece" stroke="#111" stroke-width="0.9"/>
<line x1="108.12" y1="415.10" x2="108.12" y2="417.50" stroke="#1a1a1a" stroke-width="0.8"/>
<line x1="139.38" y1="357.00" x2="139.38" y2="353.10" stroke="#111" stroke-width="1.0"/>
<line x1="133.77" y1="353.10" x2="144.98" y2="353.10" stroke="#111" stroke-width="1.1"/>
<rect x="129.40" y="357.40" width="19.95" height="57.70" fill="#000" stroke="#111" stroke-width="0.9"/>
<line x1="139.38" y1="415.10" x2="139.38" y2="417.50" stroke="#1a1a1a" stroke-width="0.8"/>
<polyline points="45.30,331.60 45.30,329.40 76.40,329.40 76.40,331.60" fill="none" stroke="#333" stroke-width="0.8"/>
<text x="60.85" y="327.20" font-size="7.8" text-anchor="middle" font-weight="normal" fill="#1c1c1c" >NS</text>
<polyline points="108.60,346.70 108.60,344.50 139.60,344.50 139.60,346.70" fill="none" stroke="#333" stroke-width="0.8"/>
<text x="124.10" y="342.30" font-size="7.8" text-anchor="middle" font-weight="normal" fill="#1c1c1c" >NS</text>
<text x="41.40" y="425.60" font-size="8.0" text-anchor="middle" font-weight="normal" fill="#1c1c1c" >AAV-c</text>
<text x="73.00" y="425.60" font-size="8.0" text-anchor="middle" font-weight="normal" fill="#1c1c1c" >AAV-<tspan font-style="italic">Tfr2</tspan></text>
<line x1="31.50" y1="428.25" x2="89.90" y2="428.25" stroke="#333" stroke-width="0.8"/>
<text x="61.90" y="436.20" font-size="8.0" text-anchor="middle" font-weight="normal" fill="#1c1c1c" >FVB</text>
<text x="105.30" y="425.60" font-size="8.0" text-anchor="middle" font-weight="normal" fill="#1c1c1c" >AAV-c</text>
<text x="136.50" y="425.60" font-size="8.0" text-anchor="middle" font-weight="normal" fill="#1c1c1c" >AAV-<tspan font-style="italic">Tfr2</tspan></text>
<line x1="95.10" y1="428.25" x2="153.90" y2="428.25" stroke="#333" stroke-width="0.8"/>
<text x="120.75" y="436.20" font-size="8.0" text-anchor="middle" font-weight="normal" fill="#1c1c1c" >129/S</text>
<text x="0" y="0" font-size="7.8" text-anchor="middle" fill="#1c1c1c" transform="translate(13.90,374.60) rotate(-90)">% Tf saturation</text>
<line x1="191.20" y1="306.70" x2="191.20" y2="416.10" stroke="#1a1a1a" stroke-width="1.1"/>
<line x1="190.70" y1="415.60" x2="355.00" y2="415.60" stroke="#1a1a1a" stroke-width="1.1"/>
<line x1="188.60" y1="415.60" x2="191.20" y2="415.60" stroke="#1a1a1a" stroke-width="0.9"/>
<text x="187.60" y="418.30" font-size="7.5" text-anchor="end" font-weight="normal" fill="#1c1c1c" >0</text>
<line x1="188.60" y1="402.04" x2="191.20" y2="402.04" stroke="#1a1a1a" stroke-width="0.9"/>
<text x="187.60" y="404.74" font-size="7.5" text-anchor="end" font-weight="normal" fill="#1c1c1c" >100</text>
<line x1="188.60" y1="388.48" x2="191.20" y2="388.48" stroke="#1a1a1a" stroke-width="0.9"/>
<text x="187.60" y="391.18" font-size="7.5" text-anchor="end" font-weight="normal" fill="#1c1c1c" >200</text>
<line x1="188.60" y1="374.91" x2="191.20" y2="374.91" stroke="#1a1a1a" stroke-width="0.9"/>
<text x="187.60" y="377.61" font-size="7.5" text-anchor="end" font-weight="normal" fill="#1c1c1c" >300</text>
<line x1="188.60" y1="361.35" x2="191.20" y2="361.35" stroke="#1a1a1a" stroke-width="0.9"/>
<text x="187.60" y="364.05" font-size="7.5" text-anchor="end" font-weight="normal" fill="#1c1c1c" >400</text>
<line x1="188.60" y1="347.79" x2="191.20" y2="347.79" stroke="#1a1a1a" stroke-width="0.9"/>
<text x="187.60" y="350.49" font-size="7.5" text-anchor="end" font-weight="normal" fill="#1c1c1c" >500</text>
<line x1="188.60" y1="334.23" x2="191.20" y2="334.23" stroke="#1a1a1a" stroke-width="0.9"/>
<text x="187.60" y="336.93" font-size="7.5" text-anchor="end" font-weight="normal" fill="#1c1c1c" >600</text>
<line x1="188.60" y1="320.66" x2="191.20" y2="320.66" stroke="#1a1a1a" stroke-width="0.9"/>
<text x="187.60" y="323.36" font-size="7.5" text-anchor="end" font-weight="normal" fill="#1c1c1c" >700</text>
<line x1="188.60" y1="307.10" x2="191.20" y2="307.10" stroke="#1a1a1a" stroke-width="0.9"/>
<text x="187.60" y="309.80" font-size="7.5" text-anchor="end" font-weight="normal" fill="#1c1c1c" >800</text>
<line x1="202.10" y1="391.10" x2="202.10" y2="388.50" stroke="#111" stroke-width="1.0"/>
<line x1="198.27" y1="388.50" x2="205.93" y2="388.50" stroke="#111" stroke-width="1.1"/>
<rect x="195.40" y="391.50" width="13.40" height="24.10" fill="#cecece" stroke="#111" stroke-width="0.9"/>
<line x1="202.10" y1="415.60" x2="202.10" y2="418.00" stroke="#1a1a1a" stroke-width="0.8"/>
<line x1="222.20" y1="391.90" x2="222.20" y2="389.80" stroke="#111" stroke-width="1.0"/>
<line x1="218.47" y1="389.80" x2="225.93" y2="389.80" stroke="#111" stroke-width="1.1"/>
<rect x="215.70" y="392.30" width="13.00" height="23.30" fill="#000" stroke="#111" stroke-width="0.9"/>
<line x1="222.20" y1="415.60" x2="222.20" y2="418.00" stroke="#1a1a1a" stroke-width="0.8"/>
<line x1="242.95" y1="328.10" x2="242.95" y2="323.40" stroke="#111" stroke-width="1.0"/>
<line x1="239.20" y1="323.40" x2="246.70" y2="323.40" stroke="#111" stroke-width="1.1"/>
<rect x="236.40" y="328.50" width="13.10" height="87.10" fill="#cecece" stroke="#111" stroke-width="0.9"/>
<line x1="242.95" y1="415.60" x2="242.95" y2="418.00" stroke="#1a1a1a" stroke-width="0.8"/>
<line x1="263.05" y1="333.80" x2="263.05" y2="329.10" stroke="#111" stroke-width="1.0"/>
<line x1="259.24" y1="329.10" x2="266.86" y2="329.10" stroke="#111" stroke-width="1.1"/>
<rect x="256.40" y="334.20" width="13.30" height="81.40" fill="#000" stroke="#111" stroke-width="0.9"/>
<line x1="263.05" y1="415.60" x2="263.05" y2="418.00" stroke="#1a1a1a" stroke-width="0.8"/>
<line x1="283.50" y1="391.90" x2="283.50" y2="390.60" stroke="#111" stroke-width="1.0"/>
<line x1="279.77" y1="390.60" x2="287.23" y2="390.60" stroke="#111" stroke-width="1.1"/>
<rect x="277.00" y="392.30" width="13.00" height="23.30" fill="#cecece" stroke="#111" stroke-width="0.9"/>
<line x1="283.50" y1="415.60" x2="283.50" y2="418.00" stroke="#1a1a1a" stroke-width="0.8"/>
<line x1="303.75" y1="392.70" x2="303.75" y2="391.10" stroke="#111" stroke-width="1.0"/>
<line x1="300.00" y1="391.10" x2="307.50" y2="391.10" stroke="#111" stroke-width="1.1"/>
<rect x="297.20" y="393.10" width="13.10" height="22.50" fill="#000" stroke="#111" stroke-width="0.9"/>
<line x1="303.75" y1="415.60" x2="303.75" y2="418.00" stroke="#1a1a1a" stroke-width="0.8"/>
<line x1="324.25" y1="314.40" x2="324.25" y2="311.80" stroke="#111" stroke-width="1.0"/>
<line x1="320.39" y1="311.80" x2="328.11" y2="311.80" stroke="#111" stroke-width="1.1"/>
<rect x="317.50" y="314.80" width="13.50" height="100.80" fill="#cecece" stroke="#111" stroke-width="0.9"/>
<line x1="324.25" y1="415.60" x2="324.25" y2="418.00" stroke="#1a1a1a" stroke-width="0.8"/>
<line x1="344.55" y1="322.10" x2="344.55" y2="319.50" stroke="#111" stroke-width="1.0"/>
<line x1="340.91" y1="319.50" x2="348.19" y2="319.50" stroke="#111" stroke-width="1.1"/>
<rect x="338.20" y="322.50" width="12.70" height="93.10" fill="#000" stroke="#111" stroke-width="0.9"/>
<line x1="344.55" y1="415.60" x2="344.55" y2="418.00" stroke="#1a1a1a" stroke-width="0.8"/>
<polyline points="201.20,386.30 201.20,384.10 222.40,384.10 222.40,386.30" fill="none" stroke="#333" stroke-width="0.8"/>
<text x="211.80" y="381.90" font-size="7.8" text-anchor="middle" font-weight="normal" fill="#1c1c1c" >NS</text>
<polyline points="241.20,321.70 241.20,319.50 263.70,319.50 263.70,321.70" fill="none" stroke="#333" stroke-width="0.8"/>
<text x="252.45" y="317.30" font-size="7.8" text-anchor="middle" font-weight="normal" fill="#1c1c1c" >NS</text>
<polyline points="282.60,389.70 282.60,387.50 303.70,387.50 303.70,389.70" fill="none" stroke="#333" stroke-width="0.8"/>
<text x="293.15" y="385.30" font-size="7.8" text-anchor="middle" font-weight="normal" fill="#1c1c1c" >NS</text>
<polyline points="324.20,311.60 324.20,309.40 345.40,309.40 345.40,311.60" fill="none" stroke="#333" stroke-width="0.8"/>
<text x="334.80" y="307.20" font-size="7.8" text-anchor="middle" font-weight="normal" fill="#1c1c1c" >NS</text>
<text font-size="7.8" fill="#1c1c1c" transform="translate(191.40,435.50) rotate(-30)">AAV-c</text>
<text font-size="7.8" fill="#1c1c1c" transform="translate(196.30,442.60) rotate(-30)">AAV-<tspan font-style="italic">Tfr2</tspan></text>
<text font-size="7.8" fill="#1c1c1c" transform="translate(236.40,435.10) rotate(-30)">AAV-c</text>
<text font-size="7.8" fill="#1c1c1c" transform="translate(242.80,442.60) rotate(-30)">AAV-<tspan font-style="italic">Tfr2</tspan></text>
<text font-size="7.8" fill="#1c1c1c" transform="translate(272.50,434.30) rotate(-30)">AAV-c</text>
<text font-size="7.8" fill="#1c1c1c" transform="translate(281.70,442.60) rotate(-30)">AAV-<tspan font-style="italic">Tfr2</tspan></text>
<text font-size="7.8" fill="#1c1c1c" transform="translate(310.80,436.30) rotate(-30)">AAV-c</text>
<text font-size="7.8" fill="#1c1c1c" transform="translate(324.80,442.60) rotate(-30)">AAV-<tspan font-style="italic">Tfr2</tspan></text>
<line x1="193.70" y1="441.50" x2="226.50" y2="441.50" stroke="#333" stroke-width="0.8"/>
<text x="207.20" y="449.80" font-size="7.7" text-anchor="middle" font-weight="normal" fill="#1c1c1c" >TSI</text>
<line x1="236.90" y1="441.50" x2="270.10" y2="441.50" stroke="#333" stroke-width="0.8"/>
<text x="253.60" y="449.80" font-size="7.7" text-anchor="middle" font-weight="normal" fill="#1c1c1c" >TIBC</text>
<line x1="276.70" y1="441.50" x2="310.40" y2="441.50" stroke="#333" stroke-width="0.8"/>
<text x="290.50" y="449.80" font-size="7.7" text-anchor="middle" font-weight="normal" fill="#1c1c1c" >TSI</text>
<line x1="319.00" y1="441.50" x2="352.80" y2="441.50" stroke="#333" stroke-width="0.8"/>
<text x="337.30" y="449.80" font-size="7.7" text-anchor="middle" font-weight="normal" fill="#1c1c1c" >TIBC</text>
<line x1="188.50" y1="453.20" x2="267.70" y2="453.20" stroke="#333" stroke-width="0.8"/>
<text x="231.20" y="461.00" font-size="7.9" text-anchor="middle" font-weight="normal" fill="#1c1c1c" >FVB</text>
<line x1="272.30" y1="453.20" x2="351.90" y2="453.20" stroke="#333" stroke-width="0.8"/>
<text x="313.90" y="461.00" font-size="7.9" text-anchor="middle" font-weight="normal" fill="#1c1c1c" >129/S</text>
<text x="0" y="0" font-size="8.2" text-anchor="middle" fill="#1c1c1c" transform="translate(169.60,363.00) rotate(-90)">Iron (µg/mL)</text>
<line x1="392.60" y1="332.50" x2="392.60" y2="416.10" stroke="#1a1a1a" stroke-width="1.1"/>
<line x1="392.10" y1="415.60" x2="515.00" y2="415.60" stroke="#1a1a1a" stroke-width="1.1"/>
<line x1="390.00" y1="415.60" x2="392.60" y2="415.60" stroke="#1a1a1a" stroke-width="0.9"/>
<text x="389.00" y="418.30" font-size="7.5" text-anchor="end" font-weight="normal" fill="#1c1c1c" >0</text>
<line x1="390.00" y1="394.93" x2="392.60" y2="394.93" stroke="#1a1a1a" stroke-width="0.9"/>
<text x="389.00" y="397.62" font-size="7.5" text-anchor="end" font-weight="normal" fill="#1c1c1c" >30</text>
<line x1="390.00" y1="374.25" x2="392.60" y2="374.25" stroke="#1a1a1a" stroke-width="0.9"/>
<text x="389.00" y="376.95" font-size="7.5" text-anchor="end" font-weight="normal" fill="#1c1c1c" >60</text>
<line x1="390.00" y1="353.58" x2="392.60" y2="353.58" stroke="#1a1a1a" stroke-width="0.9"/>
<text x="389.00" y="356.28" font-size="7.5" text-anchor="end" font-weight="normal" fill="#1c1c1c" >90</text>
<line x1="390.00" y1="332.90" x2="392.60" y2="332.90" stroke="#1a1a1a" stroke-width="0.9"/>
<text x="389.00" y="335.60" font-size="7.5" text-anchor="end" font-weight="normal" fill="#1c1c1c" >120</text>
<line x1="408.38" y1="361.90" x2="408.38" y2="357.50" stroke="#111" stroke-width="1.0"/>
<line x1="402.64" y1="357.50" x2="414.11" y2="357.50" stroke="#111" stroke-width="1.1"/>
<rect x="398.15" y="362.30" width="20.45" height="53.30" fill="#cecece" stroke="#111" stroke-width="0.9"/>
<line x1="408.38" y1="415.60" x2="408.38" y2="418.00" stroke="#1a1a1a" stroke-width="0.8"/>
<line x1="439.45" y1="369.60" x2="439.45" y2="367.80" stroke="#111" stroke-width="1.0"/>
<line x1="433.81" y1="367.80" x2="445.09" y2="367.80" stroke="#111" stroke-width="1.1"/>
<rect x="429.40" y="370.00" width="20.10" height="45.60" fill="#000" stroke="#111" stroke-width="0.9"/>
<line x1="439.45" y1="415.60" x2="439.45" y2="418.00" stroke="#1a1a1a" stroke-width="0.8"/>
<line x1="470.32" y1="343.60" x2="470.32" y2="334.70" stroke="#111" stroke-width="1.0"/>
<line x1="464.70" y1="334.70" x2="475.95" y2="334.70" stroke="#111" stroke-width="1.1"/>
<rect x="460.30" y="344.00" width="20.05" height="71.60" fill="#cecece" stroke="#111" stroke-width="0.9"/>
<line x1="470.32" y1="415.60" x2="470.32" y2="418.00" stroke="#1a1a1a" stroke-width="0.8"/>
<line x1="501.12" y1="345.00" x2="501.12" y2="335.20" stroke="#111" stroke-width="1.0"/>
<line x1="495.39" y1="335.20" x2="506.86" y2="335.20" stroke="#111" stroke-width="1.1"/>
<rect x="490.90" y="345.40" width="20.45" height="70.20" fill="#000" stroke="#111" stroke-width="0.9"/>
<line x1="501.12" y1="415.60" x2="501.12" y2="418.00" stroke="#1a1a1a" stroke-width="0.8"/>
<polyline points="407.80,350.60 407.80,348.40 438.80,348.40 438.80,350.60" fill="none" stroke="#333" stroke-width="0.8"/>
<text x="423.30" y="346.20" font-size="7.8" text-anchor="middle" font-weight="normal" fill="#1c1c1c" >NS</text>
<polyline points="470.70,331.30 470.70,329.10 502.30,329.10 502.30,331.30" fill="none" stroke="#333" stroke-width="0.8"/>
<text x="486.50" y="326.90" font-size="7.8" text-anchor="middle" font-weight="normal" fill="#1c1c1c" >NS</text>
<text x="401.60" y="423.90" font-size="8.0" text-anchor="middle" font-weight="normal" fill="#1c1c1c" >AAV-c</text>
<text x="432.80" y="423.90" font-size="8.0" text-anchor="middle" font-weight="normal" fill="#1c1c1c" >AAV-<tspan font-style="italic">Tfr2</tspan></text>
<line x1="391.90" y1="426.25" x2="448.75" y2="426.25" stroke="#333" stroke-width="0.8"/>
<text x="424.90" y="434.20" font-size="8.0" text-anchor="middle" font-weight="normal" fill="#1c1c1c" >FVB</text>
<text x="465.60" y="423.90" font-size="8.0" text-anchor="middle" font-weight="normal" fill="#1c1c1c" >AAV-c</text>
<text x="496.60" y="423.90" font-size="8.0" text-anchor="middle" font-weight="normal" fill="#1c1c1c" >AAV-<tspan font-style="italic">Tfr2</tspan></text>
<line x1="455.00" y1="426.25" x2="516.00" y2="426.25" stroke="#333" stroke-width="0.8"/>
<text x="485.00" y="434.20" font-size="8.0" text-anchor="middle" font-weight="normal" fill="#1c1c1c" >129/S</text>
<text x="0" y="0" font-size="8.2" text-anchor="middle" fill="#1c1c1c" transform="translate(373.20,373.40) rotate(-90)">Serum hepcidin (ng/mL)</text>
</svg></body></html>
